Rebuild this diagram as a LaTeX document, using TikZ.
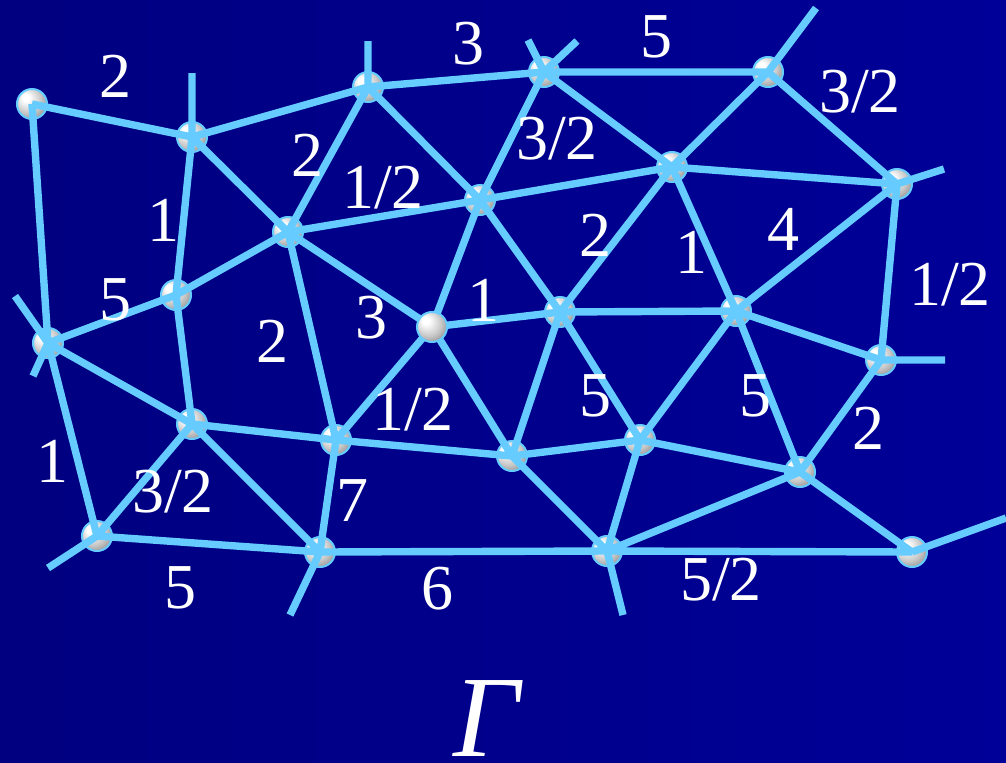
\documentclass[tikz,border=0pt]{standalone}
\usepackage{fontspec}
\setmainfont{Liberation Serif}
\usepackage{tikz}
\usetikzlibrary{positioning}
\usepackage{xcolor}
\definecolor{navydark}{RGB}{0, 0, 128}
\definecolor{navylight}{RGB}{0, 0, 152}
\definecolor{skyline}{RGB}{102, 204, 255}

\pgfdeclareradialshading{silver}{\pgfqpoint{-12bp}{12bp}}{%
  color(0bp)=(white); color(6bp)=(white); color(22bp)=(black!22);
  color(34bp)=(black!45); color(50bp)=(black!60)}

\pgfdeclarelayer{front}
\pgfsetlayers{main,front}

\tikzset{
  ball/.style={circle, inner sep=0pt, minimum size=15pt, draw=skyline, line width=1pt, shading=silver},
  link/.style={draw=skyline, line width=3.7pt},
  weight/.style={text=white, font=\fontsize{32}{32}\selectfont},
}

\begin{document}
\begin{tikzpicture}[x=0.5pt, y=-0.5pt]
    % --- Background ---
    \shade[left color=navydark, right color=navylight] (0,0) rectangle (1006,762);
    \useasboundingbox (0,0) rectangle (1006,762);

    % --- Vertices ---
    \node[ball] (A) at (32,104) {};
    \node[ball] (B) at (192,137) {};
    \node[ball] (C) at (368,87) {};
    \node[ball] (D) at (544,72) {};
    \node[ball] (E) at (768,72) {};
    \node[ball] (F) at (672,167) {};
    \node[ball] (G) at (897,184) {};
    \node[ball] (H) at (288,232) {};
    \node[ball] (I) at (480,200) {};
    \node[ball] (J) at (176,295) {};
    \node[ball] (K) at (48,343) {};
    \begin{pgfonlayer}{front}
        \node[ball] (L) at (432,327) {};
    \end{pgfonlayer}
    \node[ball] (M) at (560,312) {};
    \node[ball] (N) at (736,311) {};
    \node[ball] (O) at (881,360) {};
    \node[ball] (P) at (192,424) {};
    \node[ball] (Q) at (336,440) {};
    \node[ball] (R) at (512,456) {};
    \node[ball] (S) at (640,440) {};
    \node[ball] (T) at (800,472) {};
    \node[ball] (U) at (97,536) {};
    \node[ball] (V) at (320,552) {};
    \node[ball] (W) at (607,551) {};
    \node[ball] (X) at (912,552) {};

    % --- Loose ends ---
    \coordinate (b1) at (192,73);
    \coordinate (c1) at (368,41);
    \coordinate (d1) at (528,40);
    \coordinate (d2) at (577,41);
    \coordinate (e1) at (816,8);
    \coordinate (g1) at (944,169);
    \coordinate (k1) at (15,296);
    \coordinate (k2) at (33,376);
    \coordinate (o1) at (945,360);
    \coordinate (u1) at (48,568);
    \coordinate (v1) at (290,615);
    \coordinate (w1) at (623,615);
    \coordinate (x1) at (1006,518);

    % --- Edges ---
    \draw[link] (A.center) -- (B.center) (A.center) -- (K.center)
        (B.center) -- (C.center) (B.center) -- (J.center) (B.center) -- (H.center) (B.center) -- (b1)
        (C.center) -- (D.center) (C.center) -- (H.center) (C.center) -- (I.center) (C.center) -- (c1)
        (D.center) -- (E.center) (D.center) -- (I.center) (D.center) -- (F.center) (D.center) -- (d1) (D.center) -- (d2)
        (E.center) -- (F.center) (E.center) -- (G.center) (E.center) -- (e1)
        (F.center) -- (I.center) (F.center) -- (G.center) (F.center) -- (M.center) (F.center) -- (N.center)
        (G.center) -- (N.center) (G.center) -- (O.center) (G.center) -- (g1)
        (H.center) -- (I.center) (H.center) -- (J.center) (H.center) -- (L.center) (H.center) -- (Q.center)
        (I.center) -- (L.center) (I.center) -- (M.center)
        (J.center) -- (K.center) (J.center) -- (P.center)
        (K.center) -- (P.center) (K.center) -- (U.center) (K.center) -- (k1) (K.center) -- (k2)
        (L.center) -- (M.center) (L.center) -- (Q.center) (L.center) -- (R.center)
        (M.center) -- (N.center) (M.center) -- (R.center) (M.center) -- (S.center)
        (N.center) -- (S.center) (N.center) -- (T.center) (N.center) -- (O.center)
        (O.center) -- (T.center) (O.center) -- (o1)
        (P.center) -- (Q.center) (P.center) -- (U.center) (P.center) -- (V.center)
        (Q.center) -- (V.center) (Q.center) -- (R.center)
        (R.center) -- (S.center) (R.center) -- (W.center)
        (S.center) -- (T.center) (S.center) -- (W.center)
        (T.center) -- (W.center) (T.center) -- (X.center)
        (U.center) -- (V.center) (U.center) -- (u1)
        (V.center) -- (W.center) (V.center) -- (v1)
        (W.center) -- (X.center) (W.center) -- (w1)
        (X.center) -- (x1);

    % --- Weights ---
    \node[weight] (wAB) at (115,76) {2};
    \node[weight] (wCD) at (468,44) {3};
    \node[weight] (wDE) at (656,37) {5};
    \node[weight] (wEG) at (860,92) {3/2};
    \node[weight] (wCH) at (307,155) {2};
    \node[weight] (wHI) at (383,188) {1/2};
    \node[weight] (wDI) at (557,139) {3/2};
    \node[weight] (wBJ) at (163,220) {1};
    \node[weight] (wFM) at (595,235) {2};
    \node[weight] (wFN) at (691,252) {1};
    \node[weight] (wGN) at (783,229) {4};
    \node[weight] (wGO) at (950,285) {1/2};
    \node[weight] (wJK) at (115,300) {5};
    \node[weight] (wHL) at (371,318) {3};
    \node[weight] (wLM) at (483,300) {1};
    \node[weight] (wHQ) at (272,341) {2};
    \node[weight] (wLQ) at (413,410) {1/2};
    \node[weight] (wMS) at (595,396) {5};
    \node[weight] (wNT) at (755,396) {5};
    \node[weight] (wOT) at (868,428) {2};
    \node[weight] (wKU) at (52,461) {1};
    \node[weight] (wPU) at (173,492) {3/2};
    \node[weight] (wQV) at (352,501) {7};
    \node[weight] (wUV) at (180,588) {5};
    \node[weight] (wVW) at (437,589) {6};
    \node[weight] (wWX) at (721,580) {5/2};

    % --- Graph name ---
    \node[text=white, font=\fontsize{58}{58}\selectfont\itshape, anchor=base, inner sep=0pt] (gname) at (486,756) {Γ};
\end{tikzpicture}
\end{document}
